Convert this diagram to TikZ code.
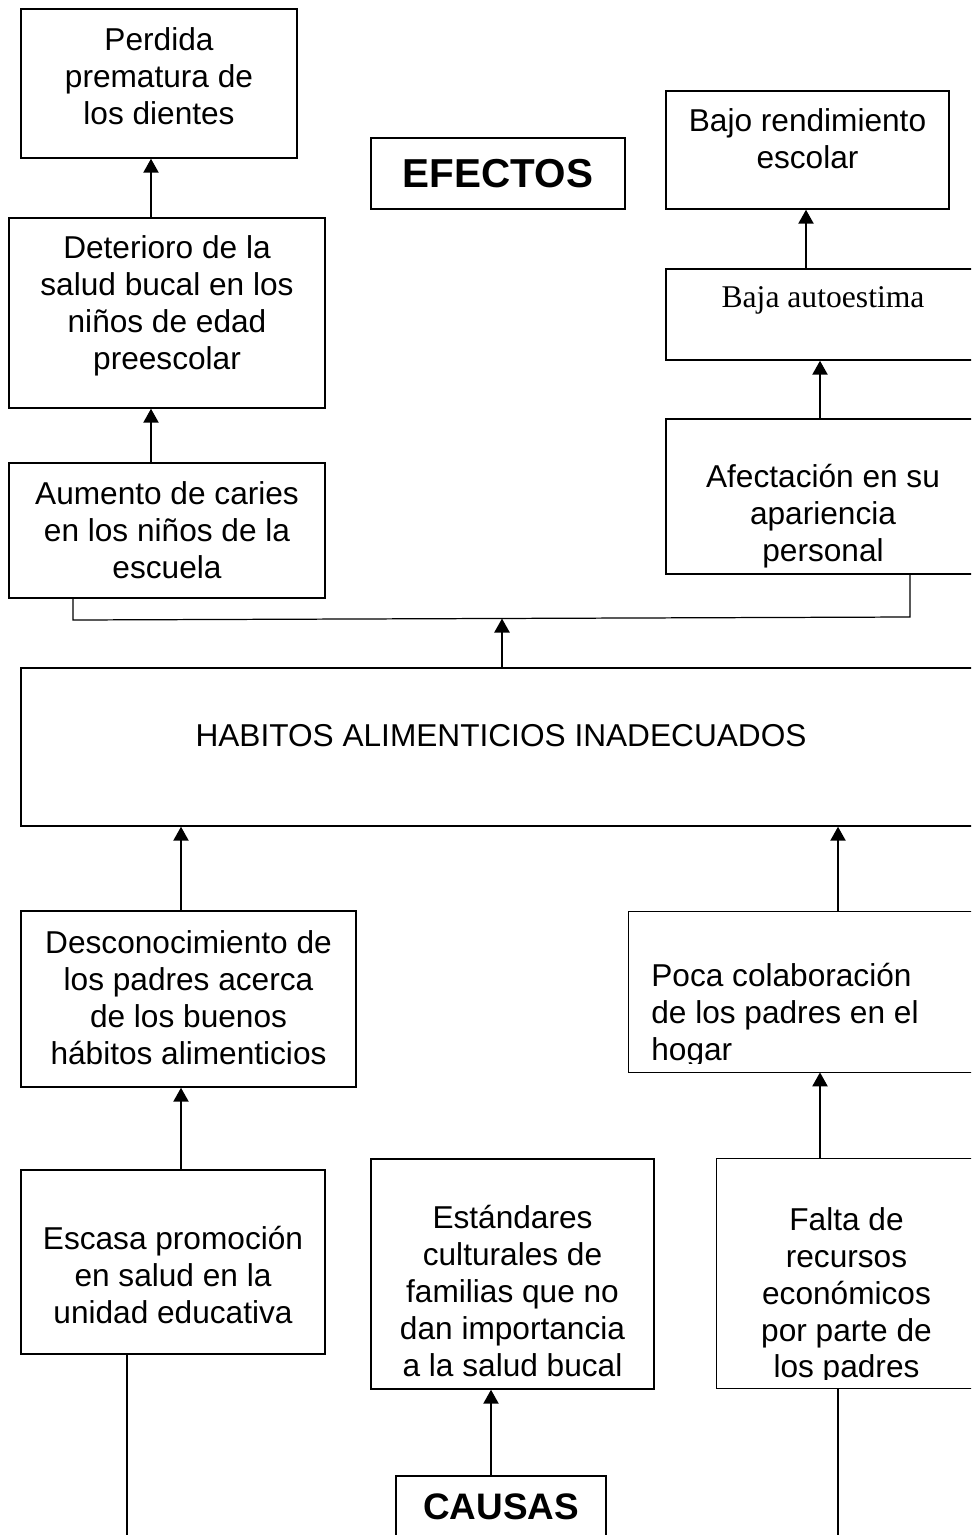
\documentclass[tikz,border=0pt]{standalone}
\usepackage{fontspec}
\setmainfont{Liberation Sans}
\newfontfamily\romana{Liberation Serif}
\usetikzlibrary{arrows.meta}

\begin{document}
\begin{tikzpicture}[x=0.02cm,y=-0.02cm,
  caja/.style={draw,line width=0.8pt,inner sep=0pt},
  medida/.style 2 args={minimum width=#1*0.02cm,minimum height=#2*0.02cm},
  texto/.style={align=center,inner sep=0pt,font=\fontsize{18}{21}\selectfont},
  titulo/.style={font=\bfseries\fontsize{#1}{#1}\selectfont},
  flecha/.style={line width=1.3pt,-{Triangle[length=0.28cm,width=0.3cm]}},
  linea/.style={line width=0.7pt}]
  \useasboundingbox (0,0) rectangle (971,1535);
  \clip (0,0) rectangle (971,1535);

  % efectos
  \node[caja,medida={276}{149}] (perdida) at (159,83.5) {};
  \node[texto] (perdidat) at (159,76.5) {Perdida\\prematura de\\los dientes};
  \node[caja,medida={316}{190}] (deterioro) at (167,313) {};
  \node[texto] (deteriorot) at (167,306) {Deterioro de la\\salud bucal en los\\niños de edad\\preescolar};
  \node[caja,medida={316}{135}] (aumento) at (167,530.5) {};
  \node[texto] (aumentot) at (167,530) {Aumento de caries\\en los niños de la\\escuela};
  \node[caja,medida={254}{71},titulo=23] (efectos) at (498,173.5) {EFECTOS};
  \node[caja,medida={283}{118}] (bajo) at (807.5,150) {};
  \node[texto] (bajot) at (807.5,139) {Bajo rendimiento\\escolar};
  \node[caja,medida={314}{91}] (baja) at (823,314.5) {};
  \node[texto,font=\romana\fontsize{18}{21}\selectfont] (bajat) at (823,300) {Baja autoestima};
  \node[caja,medida={314}{155}] (afectacion) at (823,496.5) {};
  \node[texto] (afectaciont) at (823,516) {Afectación en su\\apariencia\\personal};

  \draw[flecha] (deterioro.north -| 151,0) -- (perdida.south -| 151,0);
  \draw[flecha] (aumento.north -| 151,0) -- (deterioro.south -| 151,0);
  \draw[flecha] (baja.north -| 806,0) -- (bajo.south -| 806,0);
  \draw[flecha] (afectacion.north -| 820,0) -- (baja.south -| 820,0);

  % problema
  \node[caja,medida={960}{158}] (habitos) at (501,747) {};
  \node[texto] (habitost) at (501,736) {HABITOS ALIMENTICIOS INADECUADOS};
  \coordinate (llaveizq) at (73,620);
  \coordinate (llaveder) at (910,617);
  \draw[linea] (aumento.south -| llaveizq) -- (llaveizq) -- (llaveder) -- (afectacion.south -| llaveder);
  \draw[flecha] (habitos.north -| 502,0) -- (502,618.5);

  % causas
  \node[caja,medida={335}{176}] (descon) at (188.5,999) {};
  \node[texto] (descont) at (188.5,997.5) {Desconocimiento de\\los padres acerca\\de los buenos\\hábitos alimenticios};
  \node[medida={361}{160}] (poca) at (809.5,992) {};
  \begin{scope}
    \clip (poca.north west) rectangle ([yshift=0.18cm]poca.south east);
    \node[texto,align=left,anchor=west] (pocat) at (651,1015) {Poca colaboración\\de los padres en el\\hogar};
  \end{scope}
  \draw[line width=0.8pt] (poca.north west) rectangle (poca.south east);
  \node[caja,medida={304}{184}] (escasa) at (173,1262) {};
  \node[texto] (escasat) at (173,1275) {Escasa promoción\\en salud en la\\unidad educativa};
  \node[caja,medida={283}{230}] (estandares) at (512.5,1274) {};
  \node[texto] (estandarest) at (512.5,1291) {Estándares\\culturales de\\familias que no\\dan importancia\\a la salud bucal};
  \node[medida={259}{229}] (falta) at (846.5,1273.5) {};
  \begin{scope}
    \clip (falta.north west) rectangle ([yshift=0.18cm]falta.south east);
    \node[texto] (faltat) at (846.5,1296) {Falta de\\recursos\\económicos\\por parte de\\los padres};
  \end{scope}
  \draw[line width=0.8pt] (falta.north west) rectangle (falta.south east);
  \node[caja,medida={210}{62},titulo=21] (causas) at (501,1507) {CAUSAS};

  \draw[flecha] (descon.north -| 181,0) -- (habitos.south -| 181,0);
  \draw[flecha] (poca.north -| 838,0) -- (habitos.south -| 838,0);
  \draw[flecha] (escasa.north -| 181,0) -- (descon.south -| 181,0);
  \draw[flecha] (falta.north -| 820,0) -- (poca.south -| 820,0);
  \draw[flecha] (causas.north -| 491,0) -- (estandares.south -| 491,0);
  \coordinate (finizq) at (127,1535);
  \coordinate (finder) at (838,1535);
  \draw[linea] (escasa.south -| finizq) -- (finizq);
  \draw[linea] (falta.south -| finder) -- (finder);
\end{tikzpicture}
\end{document}
